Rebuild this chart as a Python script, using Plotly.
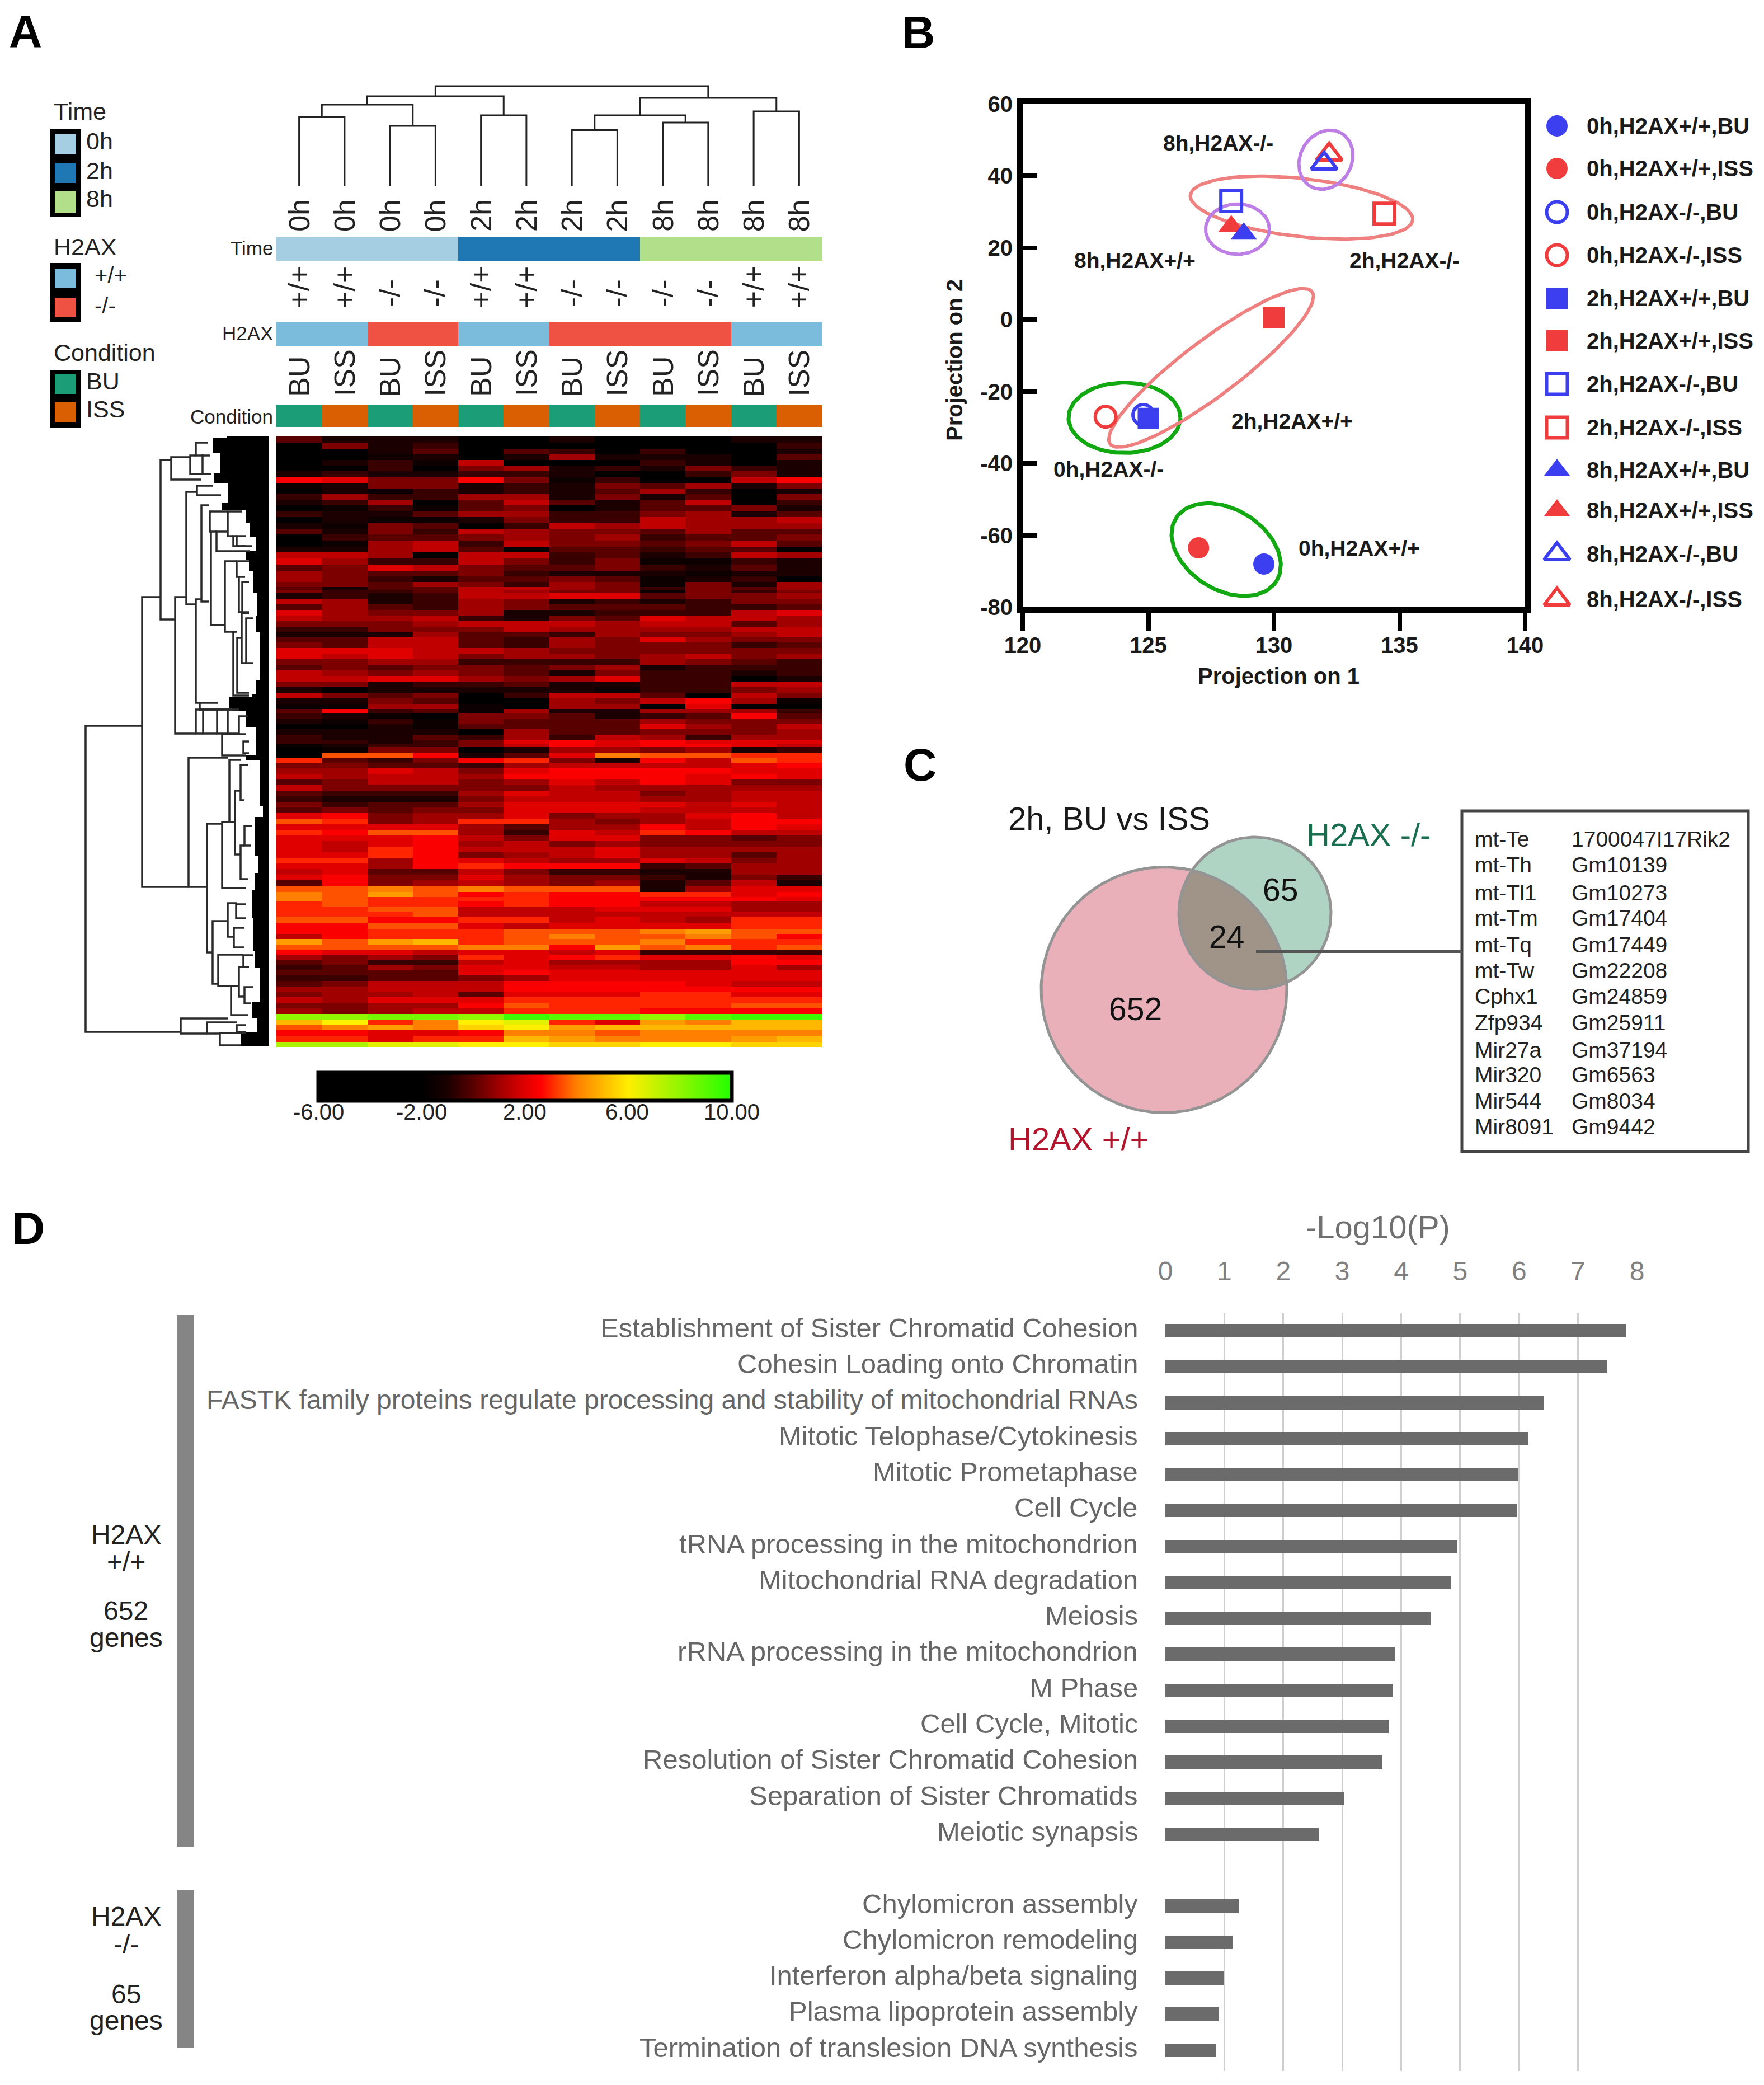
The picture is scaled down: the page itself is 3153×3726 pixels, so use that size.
import math
import plotly.graph_objects as go

W, H = 3153, 3726
FONT = "Liberation Sans"

# ---------- Panel A data ----------
columns = list(range(12))
time_labels = ["0h","0h","0h","0h","2h","2h","2h","2h","8h","8h","8h","8h"]
h2ax_labels = ["+/+","+/+","-/-","-/-","+/+","+/+","-/-","-/-","-/-","-/-","+/+","+/+"]
cond_labels = ["BU","ISS"]*6
time_levels = ["0h","2h","8h"]
h2ax_levels = ["+/+","-/-"]
cond_levels = ["BU","ISS"]
time_colors = ["#a6cee3","#1f78b4","#b2df8a"]
h2ax_colors = ["#7bbcdc","#ef5243"]
cond_colors = ["#1b9e77","#d95f02"]

dendro_nodes = [(0,1,123),(2,3,107),(12,13,145),(4,5,126),(14,15,160),(6,7,99.5),
                (8,9,113),(17,18,126),(10,11,133),(19,20,157),(16,21,178)]

heat_y = [785,797,807,817,827,837,847,858,868,878,888,898,908,918,930,940,950,960,972,982,
          992,1003,1015,1025,1035,1045,1053,
          1055,1065,1075,1085,1095,1105,1115,1125,1133,1143,1153,1163,1173,1183,1193,1203,
          1213,1223,1233,1243,1253,1263,1270,1280,1290,1298,1308,1318,1327,
          1330,1340,1350,1358,1368,1378,1388,1398,1408,1418,1428,1438,1448,1458,1468,1478,
          1488,1498,1508,1518,1528,1538,1548,1558,1568,1578,1588,1600,
          1605,1615,1625,1633,1643,1655,1665,1673,1683,1693,1702,1710,1720,1728,1738,1747,
          1758,1768,1777,1787,1797,1807,1817,1827,1835,1845,1857,1868]
heat_z = [
[0,-1,-1,-1,-2,-2,-1,-2,-2,-2,-1,-1],[-2,.5,-1,-.5,-2,-2,-2,-2,-2,-2,-2,-.5],
[-2,-2,-1,0,-2,0,-.5,-2,-.5,-2,-2,-1],[-2,-2,-1.5,-1,-2,-1,1,-1,-1,-1,-2,0],
[-2,-1,-.5,-1.5,1.5,-2,-2,-2,-.5,-1,-2,-1],[-2,-2,-.5,-2,.5,1,-1,-.5,-1,.5,-.5,-1],
[-1,-.5,-1,-1,-.5,-.5,-1,-2,-2,-.5,.5,-1],[2.5,2,.5,.5,2.5,.5,-1.5,-.5,-2,-2,1.5,2.5],
[-1.5,-1,.5,.5,-1,-.5,-1,.5,0,1,-1,.5],[-2,-1,-1.5,-.5,-1,-.5,-1,0,1,-.5,-2,-1],
[-.5,1,-.5,-.5,1,1,-1,.5,-1,0,-2,.5],[-1,-.5,1,-2,0,1.5,0,-1,0,1.5,-2,-.5],
[-2,-1.5,-.5,-1.5,0,.5,-2,-1,0,0,.5,-1],[-.5,-1,-1,0,1,1,-.5,-.5,.5,1,-1,0],
[-2,-1,-1.5,-1.5,-1,.5,-.5,-.5,1.5,1,1,1.5],[-1,-1.5,.5,0,-2,-.5,1.5,1,1.5,1,1,1],
[0,-1,.5,-.5,1.5,1,.5,.5,0,1,0,0],[-2,-.5,0,0,.5,1,.5,1,-.5,0,0,.5],
[-2,-1.5,1,1.5,-.5,1.5,.5,.5,0,.5,1.5,0],[-1,-1,1,1.5,0,-2,0,0,-.5,0,0,-2],
[1.5,1.5,1,-2,1.5,1.5,-.5,0,-1,-.5,1.5,1],[2,1,-.5,-.5,1.5,.5,-.5,.5,-1.5,-1.5,-.5,-1],
[0,.5,2,1.5,.5,0,0,.5,-.5,-1,0,-1],[1,.5,0,0,.5,-.5,-1,-1,-1,-1.5,-1,-1],
[1,.5,-.5,-1,0,0,.5,0,-1.5,-1,-.5,-2],[.5,.5,0,1,.5,-.5,1,.5,-1.5,.5,-1,1],
[0,-1,0,0,1.5,1.5,1,.5,-.5,.5,0,1],
[.5,-.5,-.5,0,1.5,1,.5,.5,-1.5,.5,-.5,.5],[-1,-.5,-1,-.5,1.5,1.5,2,2,0,.5,.5,1],
[1.5,1,-1,-.5,1,.5,-1,-.5,-1,-.5,.5,.5],[0,1,0,-.5,1,.5,0,0,0,-.5,-.5,0],
[2,1,.5,.5,1,-1,-1,-.5,-.5,-.5,1.5,2],[1.5,1,1,1.5,-.5,-1,.5,0,2,1.5,1.5,1],
[.5,.5,.5,1,1.5,1.5,1.5,1,1.5,1.5,0,1],[-.5,-.5,.5,.5,.5,1.5,1,1,1,1,1.5,1.5],
[-1,-1,-1,1,0,0,-.5,1,.5,.5,1,1.5],[0,0,1.5,1.5,0,-.5,1,.5,2,1,.5,.5],
[.5,0,1.5,1.5,0,-.5,1,.5,.5,.5,-.5,0],[2,2,2,1.5,1.5,1,.5,.5,.5,.5,.5,.5],
[2,1.5,2,1.5,.5,1,1,.5,1,1.5,.5,1],[.5,.5,1,1,-.5,-.5,-.5,-.5,1,.5,0,-.5],
[0,.5,0,.5,.5,0,.5,1,-1,-.5,-.5,-.5],[1.5,1,.5,1,.5,0,-1,.5,-.5,-.5,-1,-.5],
[1.5,1.5,2,2,1,.5,1,2,-.5,-.5,-2,-1],[.5,.5,-1,-.5,-.5,0,-1,-1,-.5,-.5,1.5,1.5],
[-1,-2,-1,-1,-1,-1,-1,-1.5,-.5,-.5,.5,1],[1.5,.5,0,.5,-2,-.5,1.5,1.5,0,-2,1.5,.5],
[-1,-1,.5,0,-2,-2,1,.5,1.5,2.5,1,-1.5],[-1.5,-1.5,1,1,-1.5,-2,1,1,-2,2,-2,-2],
[0,2.5,-.5,0,-1.5,1,-1,-1,1,1,1,-.5],[-.5,-1,-1.5,-2,.5,.5,0,-1,-.5,0,2.5,0],
[-1,-1.5,-.5,-1.5,.5,0,0,0,1,.5,.5,.5],[-2,-2,-1,-1.5,0,0,0,0,2,1,.5,1.5],
[-1,-1,-1,-1,-2,1,0,0,.5,.5,.5,1],[-.5,-1,-1,0,-.5,1,-.5,1.5,1,-.5,1,1],
[-.5,-.5,-1,-.5,.5,2,2.5,2,2.5,2,2,2],
[-1.5,-1,-.5,-.5,.5,1.5,2.5,2,2.5,2.5,2,1.5],[-2,-1.5,.5,.5,-2,-1,1,1,.5,1,-1,-.5],
[-2,3.5,3.5,2.5,-1,0,2,4,3.5,3.5,3,3],[3,0,-.5,.5,2.5,3,.5,-1,2.5,1.5,3.5,3],
[.5,.5,0,0,-.5,1,1.5,1.5,1.5,1.5,2,2.5],[1,1,2,1.5,.5,2,2.5,2.5,2.5,2.5,2,2],
[1.5,1,1.5,1.5,1,2.5,2.5,2.5,2.5,2,2.5,2],[0,.5,1.5,1.5,.5,1,2,1.5,2.5,2,.5,.5],
[1.5,.5,.5,.5,.5,.5,1.5,1,1,1,1,1],[0,-.5,-.5,-.5,1,2,1.5,1.5,.5,1,1.5,1.5],
[-.5,-1,-1,-1,.5,1.5,1.5,1.5,1,1,1.5,1.5],[.5,-.5,0,0,1,2,2,2,2,1.5,2,1.5],
[0,.5,0,.5,.5,2,2,2,1.5,1.5,1.5,1.5],[2,2.5,.5,1,1,2,.5,1,1,2,2.5,1.5],
[3.5,3,.5,1,3,3,1,.5,1,1.5,2.5,2.5],[2,2,2,2,1,0,1,1,2.5,1.5,2.5,2],
[3,2.5,3.5,3.5,1,-.5,2,1.5,3,2.5,1.5,1.5],[2,2,2,2.5,1.5,.5,2,2,.5,.5,0,.5],
[2,1.5,2,2.5,1,1.5,.5,1,.5,.5,.5,.5],[2,1.5,3,2.5,1.5,1.5,1.5,2,1,1,1,1],
[2,2,3,2.5,.5,1,1.5,2,1,1,0,1],[3,3,1,2.5,2,1.5,1,1,2,1.5,.5,1],
[2,2,1,2.5,3,2.5,2.5,2.5,-.5,0,1,1],[1.5,2,0,0,1.5,.5,-.5,-.5,-1,-1,1,1],
[2,2.5,.5,.5,2,1,.5,.5,-.5,-1,.5,-.5],[0,2.5,.5,1,1.5,1,.5,1,-1,0,1.5,-1],
[3.5,3.5,4,3.5,4,3.5,3.5,3.5,-1,1,2,2],[4,3.5,4.5,3.5,2.5,3,2.5,2.5,3,3,2,2.5],
[4,3.5,3,3,3,3,2.5,2.5,2.5,2.5,2.5,2],[3,3.5,3,3,2.5,3,2.5,2.5,1.5,1.5,1,1],
[3,3,3.5,3.5,1.5,1.5,1.5,2,2,2,1,1],[3,3,3,3.5,1.5,1.5,1.5,1.5,1.5,1.5,1.5,1.5],
[3.5,3.5,2.5,2.5,3,3,1.5,2,1.5,1,3,3],[2.5,2.5,3.5,3.5,2,1.5,2,2,2,2,3,3],
[2.5,2.5,3,3,3,3.5,3.5,3.5,4,4.5,3.5,3.5],[1.5,2.5,3,3,3,3.5,4,3.5,3.5,4,3.5,2.5],
[4.5,3.5,4.5,5,3,3.5,3.5,3.5,4,3,3,3],[3.5,3.5,3.5,3.5,4,4,2.5,4.5,3.5,4,3,3.5],
[2.5,2,2,1.5,2,2,1.5,2,-.5,-.5,-.5,-.5],[1,.5,1,.5,3,2,2.5,3,2,2,2.5,2],
[0,.5,-.5,-.5,1.5,2,1,1,1,1,2.5,2.5],[-.5,0,1,.5,2,2,1.5,1.5,1,1,2,1],
[0,0,0,0,2,2.5,2,2,2,2,2,2],[-.5,-.5,0,0,.5,1,2,2,2,2,2,2],
[0,.5,1.5,1.5,1.5,2.5,2.5,2.5,2.5,2,1.5,1.5],[1,1,1.5,1.5,1.5,2.5,2.5,2.5,2.5,2.5,2.5,2.5],
[.5,1,1,1.5,0,2,2,2,3,3,2,2],[1.5,1,2,2,2,3,3,3,3,3,3,3],
[.5,.5,1,1,2.5,3.5,3,3,3,3,3.5,3.5],[1,.5,1,1.5,1.5,3,3,3,2.5,2.5,2.5,2.5],
[8,8,8.5,8.5,8,9.5,9,9,8,9,9.5,9.5],[5,6,3,4,6,6.5,3,2,4.5,4,5,5],
[3.5,4,4.5,4,5.5,6,4.5,5,5,5,5,5],[2.5,2.5,2,2,2.5,4,4,3.5,4,4,4,4],
[3,3,2,3,3,5,4.5,4,4,4,4.5,5],[7.5,7.5,6.5,6.5,6,6,5.5,5.5,6,6,5.5,5.5],
]
assert len(heat_y) == len(heat_z)

# Row dendrogram: (vertical depth, top y, top child depth, bottom y, bottom child depth)
row_nodes = [
(153,1297,254,1844,323),(254,1067,287,1585,337),(287,822,306,1107,313),(306,817,340,857,360),
(340,814,350,847,373),(350,791,372,814,365),(362,814,375,847,378),
(313,1067,333,1311,350),(333,879,352,1080,350),(352,868,380,885,395),(350,1071,360,1256,357),
(360,903,373,1075,373),(375,914,407,950,377),(377,950,387,1117,402),(387,950,407,985,447),
(407,914,433,958,417),(417,958,423,976,450),(423,958,440,976,440),
(402,1003,423,1129,420),(423,1003,445,1031,427),(427,1031,438,1094,433),(433,1040,445,1094,445),
(417,1129,424,1243,445),(424,1140,432,1238,445),(432,1096,445,1185,440),(440,1105,452,1185,452),
(357,1256,390,1268,423),(350,1268,363,1311,363),(363,1268,388,1311,388),(388,1268,407,1311,407),
(407,1268,427,1311,427),(427,1280,443,1312,440),(397,1312,427,1350,440),(435,1325,445,1346,445),
(337,1354,408,1585,368),(410,1358,430,1469,418),(370,1472,397,1702,380),(397,1469,418,1587,440),
(420,1413,430,1527,430),(430,1367,443,1430,437),(430,1511,437,1571,443),(437,1476,450,1511,448),
(407,1614,423,1674,418),(380,1646,407,1758,390),(390,1706,435,1762,427),(422,1616,440,1641,440),
(418,1658,437,1693,437),(435,1707,452,1728,445),(427,1728,445,1781,437),(437,1764,452,1793,448),
(413,1762,427,1814,443),(323,1820,407,1847,370),(370,1827,423,1847,393),(393,1846,440,1868,430),
(423,1832,440,1844,440),
]
# Left edge of the solid block of leaves: (y start, y end, depth)
leaf_edge = [(780,782,405),(782,810,380),(810,845,393),(845,863,383),(863,898,407),(898,912,397),
(912,935,440),(935,960,447),(960,985,457),(985,1000,440),(1000,1020,445),(1020,1060,452),
(1060,1100,460),(1100,1130,458),(1130,1215,465),(1215,1240,458),(1240,1245,450),(1245,1265,410),
(1265,1270,415),(1270,1300,440),(1300,1350,457),(1350,1358,440),(1358,1440,465),(1440,1460,470),
(1460,1530,455),(1530,1560,462),(1560,1590,455),(1590,1640,450),(1640,1700,452),(1700,1730,455),
(1730,1790,465),(1790,1820,450),(1820,1845,460),(1845,1870,430)]

# ---------- Panel B data ----------
pca_names = ["0h,H2AX+/+,BU","0h,H2AX+/+,ISS","0h,H2AX-/-,BU","0h,H2AX-/-,ISS",
             "2h,H2AX+/+,BU","2h,H2AX+/+,ISS","2h,H2AX-/-,BU","2h,H2AX-/-,ISS",
             "8h,H2AX+/+,BU","8h,H2AX+/+,ISS","8h,H2AX-/-,BU","8h,H2AX-/-,ISS"]
pca_x = [129.6,127.0,124.8,123.3,125.0,130.0,128.3,134.4,128.8,128.3,132.0,132.2]
pca_y = [-68,-63.5,-26.5,-27,-27.5,0.5,33,29.5,24,26,43.5,46]
pca_symbols = ["circle","circle","circle-open","circle-open","square","square","square-open","square-open",
               "triangle-up","triangle-up","triangle-up-open","triangle-up-open"]
pca_colors = ["#3b3ff0","#f03c3c"]*6
group_names = ["8h,H2AX-/-","8h,H2AX+/+","2h,H2AX-/-","2h,H2AX+/+","0h,H2AX-/-","0h,H2AX+/+"]
pca_xticks = [120,125,130,135,140]
pca_yticks = [-80,-60,-40,-20,0,20,40,60]

# ---------- Panel C data ----------
venn_only_wt, venn_both, venn_only_ko = 652, 24, 65
genes_a = ["mt-Te","mt-Th","mt-Tl1","mt-Tm","mt-Tq","mt-Tw","Cphx1","Zfp934","Mir27a","Mir320","Mir544","Mir8091"]
genes_b = ["1700047I17Rik2","Gm10139","Gm10273","Gm17404","Gm17449","Gm22208","Gm24859","Gm25911","Gm37194","Gm6563","Gm8034","Gm9442"]

# ---------- Panel D data ----------
pathways = ["Establishment of Sister Chromatid Cohesion","Cohesin Loading onto Chromatin",
 "FASTK family proteins regulate processing and stability of mitochondrial RNAs","Mitotic Telophase/Cytokinesis",
 "Mitotic Prometaphase","Cell Cycle","tRNA processing in the mitochondrion","Mitochondrial RNA degradation","Meiosis",
 "rRNA processing in the mitochondrion","M Phase","Cell Cycle, Mitotic","Resolution of Sister Chromatid Cohesion",
 "Separation of Sister Chromatids","Meiotic synapsis","Chylomicron assembly","Chylomicron remodeling",
 "Interferon alpha/beta signaling","Plasma lipoprotein assembly","Termination of translesion DNA synthesis"]
log_p = [7.81,7.49,6.42,6.15,5.98,5.96,4.95,4.84,4.51,3.90,3.85,3.79,3.68,3.03,2.61,1.24,1.14,0.99,0.91,0.86]
path_rows = list(range(15)) + list(range(16,21))

# ---------- helpers ----------
def px(x): return x/W
def py(y): return 1-y/H
annots, shapes = [], []
def T(x,y,text,size,color="#222222",bold=False,anchor="center",angle=0,xref="paper",yref="paper",yshift=0):
    annots.append(dict(x=px(x) if xref=="paper" else x, y=py(y) if yref=="paper" else y, xref=xref, yref=yref,
        text=f"<b>{text}</b>" if bold else text, showarrow=False, xanchor=anchor, yanchor="middle",
        textangle=angle, yshift=yshift, font=dict(family=FONT,size=size,color=color)))
def R(x0,y0,x1,y1,fill,line=None,lw=0):
    shapes.append(dict(type="rect",xref="paper",yref="paper",x0=px(x0),x1=px(x1),y0=py(y0),y1=py(y1),
        fillcolor=fill,line=dict(color=line or fill,width=lw),layer="below"))

fig = go.Figure()
OV = dict(xaxis="x",yaxis="y")      # full-page drawing axes
AM = dict(xaxis="x2",yaxis="y2")    # heat-map block
BP = dict(xaxis="x3",yaxis="y3")    # PCA
DB = dict(xaxis="x4",yaxis="y4")    # bars

def axis_off(**k):
    return dict(visible=False,automargin=False,fixedrange=True,**k)

# ---------- Panel A ----------
pos = {i:float(i) for i in columns}; hgt = {i:0.0 for i in columns}
BASE = 332
for n,(a,b,h) in enumerate(dendro_nodes):
    nid = 12+n
    fig.add_trace(go.Scatter(x=[pos[a],pos[a],pos[b],pos[b]],y=[BASE-hgt[a],BASE-h,BASE-h,BASE-hgt[b]],
        mode="lines",line=dict(color="#222222",width=3),showlegend=False,hoverinfo="skip",**AM))
    pos[nid]=(pos[a]+pos[b])/2; hgt[nid]=h

def band(levels,colors,labels,yc,dy):
    codes=[levels.index(v) for v in labels]
    n=len(levels); cs=[]
    for i,c in enumerate(colors):
        cs += [[i/n,c],[(i+1)/n,c]]
    fig.add_trace(go.Heatmap(z=[codes],x=columns,y0=yc,dy=dy,zmin=-0.5,zmax=n-0.5,colorscale=cs,showscale=False,hoverinfo="skip",**AM))
band(time_levels,time_colors,time_labels,444.5,43)
band(h2ax_levels,h2ax_colors,h2ax_labels,596.5,43)
band(cond_levels,cond_colors,cond_labels,743,40)

def stop(v): return (v+6)/16
fig.add_trace(go.Heatmap(z=heat_z,x=columns,y=heat_y,zmin=-6,zmax=10,
    colorscale=[[0,"#000000"],[stop(-2),"#000000"],[stop(-1),"#1a0000"],[stop(0),"#580000"],[stop(1),"#a00000"],
                [stop(2),"#e00000"],[stop(2.6),"#ff0000"],[stop(4),"#ff8000"],[stop(6),"#ffee00"],[1,"#22ff00"]],
    colorbar=dict(orientation="h",x=px(569),xanchor="left",y=py(1917),yanchor="top",lenmode="pixels",len=739,
        thicknessmode="pixels",thickness=50,xpad=0,ypad=0,outlinecolor="#000000",outlinewidth=7,ticks="",
        showticklabels=False),hoverinfo="skip",**AM))
for x,t in zip([569,753,938,1121,1308],["-6.00","-2.00","2.00","6.00","10.00"]):
    T(x,1987,t,40,"#222222")

for i in columns:
    T(i,385,time_labels[i],52,angle=-90,xref="x2",yref="y2")
    T(i,513 if h2ax_labels[i]=="+/+" else 524,h2ax_labels[i],52,angle=-90,xref="x2",yref="y2")
    T(i,673 if cond_labels[i]=="BU" else 666,cond_labels[i],52,angle=-90,xref="x2",yref="y2")
T(490,444,"Time",35,anchor="right"); T(490,595,"H2AX",35,anchor="right"); T(490,744,"Condition",35,anchor="right")

lx,ly=[],[]
for y0,y1,d in leaf_edge:
    lx+=[d,d]; ly+=[y0,y1]
lx+=[480,480]; ly+=[leaf_edge[-1][1],leaf_edge[0][0]]
fig.add_trace(go.Scatter(x=lx,y=ly,mode="lines",fill="toself",fillcolor="#000000",line=dict(width=0,color="#000000"),
    showlegend=False,hoverinfo="skip",**OV))
for xv,y1,x1,y2,x2 in row_nodes:
    fig.add_trace(go.Scatter(x=[x1,xv,xv,x2],y=[y1,y1,y2,y2],mode="lines",line=dict(color="#2a2a2a",width=3.5),
        showlegend=False,hoverinfo="skip",**OV))

for (y0,y1,inner,cols) in [(231,388,[(240,276),(291,327),(341,380)],time_colors),
                           (470,575,[(480,515),(533,566)],h2ax_colors),
                           (661,765,[(668,704),(719,755)],cond_colors)]:
    R(89,y0,144,y1,"#000000")
    for (a,b),c in zip(inner,cols):
        R(98,a,136,b,c)
T(94,199,"Time",43,anchor="left")
for y,t in zip([252,305,355],time_levels): T(152,y,t,43,anchor="left")
T(94,441,"H2AX",43,anchor="left")
for y,t in zip([492,546],h2ax_levels): T(167,y,t,40,anchor="left")
T(94,630,"Condition",43,anchor="left")
for y,t in zip([681,731],cond_levels): T(152,y,t,43,anchor="left")

# ---------- Panel B ----------
SX,SY = 20/898, 140/899
ellipses = [(124.05,-27.3,100,63,0,"#12a812",7),(128.1,-64,106,72,-32,"#12a812",7),
            (127.5,-13.4,226,50,37,"#ee8080",6),(131.1,31.2,200,52,-6.4,"#ee8080",6),
            (132.07,44.5,55,46,60,"#bd7fe6",6),(128.55,25.2,57,45,0,"#bd7fe6",6)]
for cx,cy,a,b,ang,col,lw in ellipses:
    t=[2*math.pi*i/120 for i in range(121)]
    r=math.radians(ang)
    ex=[cx+(a*math.cos(u)*math.cos(r)-b*math.sin(u)*math.sin(r))*SX for u in t]
    ey=[cy+(a*math.cos(u)*math.sin(r)+b*math.sin(u)*math.cos(r))*SY for u in t]
    fig.add_trace(go.Scatter(x=ex,y=ey,mode="lines",line=dict(color=col,width=lw),showlegend=False,hoverinfo="skip",**BP))
def msize(sym):
    if sym.startswith("triangle"): return 40
    return 37 if "open" in sym else 38
for i in [2,3,0,1,4,5,6,7,9,8,11,10]:
    op = "open" in pca_symbols[i]
    fig.add_trace(go.Scatter(x=[pca_x[i]],y=[pca_y[i]],mode="markers",showlegend=False,hoverinfo="skip",
        marker=dict(symbol=pca_symbols[i],size=msize(pca_symbols[i]),color=pca_colors[i],line=dict(color=pca_colors[i],width=6 if op else 0)),**BP))
leg_y=[225,301,379,456,533,609,686,764,840,912,990,1071]
for i,y in enumerate(leg_y):
    op = "open" in pca_symbols[i]
    fig.add_trace(go.Scatter(x=[2783],y=[y],mode="markers",showlegend=False,hoverinfo="skip",
        marker=dict(symbol=pca_symbols[i],size=msize(pca_symbols[i]),color=pca_colors[i],line=dict(color=pca_colors[i],width=6 if op else 0)),**OV))
    T(2834,y,pca_names[i],40,"#1a1a1a",True,"left")
for (x,y),t in zip([(2177,256),(2028,465),(2510,465),(2309,752),(1981,838),(2429,979)],group_names):
    T(x,y,t,39,"#1a1a1a",True)
T(2285,1208,"Projection on 1",40,"#1a1a1a",True)
T(1706,643,"Projection on 2",40,"#1a1a1a",True,angle=-90)

# ---------- Panel C ----------
def circ(cx,cy,r,n=180):
    t=[2*math.pi*i/n for i in range(n+1)]
    return [cx+r*math.cos(u) for u in t],[cy+r*math.sin(u) for u in t]
C1=(2080.5,1769,219.5); C2=(2243,1632,136)
x1,y1=circ(*C1); x2,y2=circ(*C2)
fig.add_trace(go.Scatter(x=x1,y=y1,mode="lines",fill="toself",fillcolor="#e9b0b9",line=dict(width=0),showlegend=False,hoverinfo="skip",**OV))
fig.add_trace(go.Scatter(x=x2,y=y2,mode="lines",fill="toself",fillcolor="#b0d4c4",line=dict(width=0),showlegend=False,hoverinfo="skip",**OV))
d=math.hypot(C2[0]-C1[0],C2[1]-C1[1]); ang0=math.atan2(C2[1]-C1[1],C2[0]-C1[0])
a1=math.acos((d*d+C1[2]**2-C2[2]**2)/(2*d*C1[2])); a2=math.acos((d*d+C2[2]**2-C1[2]**2)/(2*d*C2[2]))
lx=[C1[0]+C1[2]*math.cos(ang0-a1+2*a1*i/60) for i in range(61)]+[C2[0]+C2[2]*math.cos(ang0+math.pi-a2+2*a2*i/60) for i in range(61)]
ly=[C1[1]+C1[2]*math.sin(ang0-a1+2*a1*i/60) for i in range(61)]+[C2[1]+C2[2]*math.sin(ang0+math.pi-a2+2*a2*i/60) for i in range(61)]
fig.add_trace(go.Scatter(x=lx,y=ly,mode="lines",fill="toself",fillcolor="#a09488",line=dict(width=0),showlegend=False,hoverinfo="skip",**OV))
for xx,yy in [(x1,y1),(x2,y2)]:
    fig.add_trace(go.Scatter(x=xx,y=yy,mode="lines",line=dict(color="#949494",width=5),showlegend=False,hoverinfo="skip",**OV))
fig.add_trace(go.Scatter(x=[2245,2613],y=[1700,1700],mode="lines",line=dict(color="#555555",width=6),showlegend=False,hoverinfo="skip",**OV))
T(1982,1463,"2h, BU vs ISS",58,"#1a1a1a"); T(2446,1491,"H2AX -/-",58,"#1a6e50"); T(1927,2035,"H2AX +/+",58,"#b3152c")
T(2288,1590,str(venn_only_ko),57,"#111111"); T(2192,1674,str(venn_both),57,"#111111"); T(2029,1803,str(venn_only_wt),57,"#111111")
shapes.append(dict(type="rect",xref="paper",yref="paper",x0=px(2613),x1=px(3125),y0=py(1449),y1=py(2058),
    line=dict(color="#444444",width=5),fillcolor="rgba(0,0,0,0)",layer="below"))
for y,a,b in zip([1499,1545,1595,1641,1688,1734,1780,1828,1876,1921,1967,2014],genes_a,genes_b):
    T(2634,y,a,39,"#222222",anchor="left"); T(2807,y,b,39,"#222222",anchor="left")

# ---------- Panel D ----------
fig.add_trace(go.Bar(x=log_p,y=path_rows,orientation="h",width=0.375,marker=dict(color="#6b6b6b",line=dict(width=0)),
    showlegend=False,hoverinfo="skip",**DB))
for r,name in zip(path_rows,pathways):
    T(2036,r,name,48 if name.startswith("FASTK") else 49,"#666666",anchor="right",yref="y4",yshift=5)
R(316,2350,346,3300,"#858585"); R(316,3378,346,3660,"#858585")
T(2463,2192,"-Log10(P)",58,"#707070")
for y,t in zip([2742,2790,2878,2926],["H2AX","+/+","652","genes"]): T(225,y,t,48,"#222222")
for y,t in zip([3424,3474,3563,3610],["H2AX","-/-","65","genes"]): T(225,y,t,48,"#222222")

T(45,56,"A",82,"#000000",True); T(1642,58,"B",82,"#000000",True); T(1645,1366,"C",82,"#000000",True); T(50,2194,"D",82,"#000000",True)

# ---------- Layout ----------
tick_bold = dict(family=FONT,size=40,color="#1a1a1a",weight="bold")
fig.update_layout(width=W,height=H,margin=dict(l=0,r=0,t=0,b=0,pad=0),paper_bgcolor="white",plot_bgcolor="rgba(0,0,0,0)",
    annotations=annots,shapes=shapes,showlegend=False,bargap=0,font=dict(family=FONT),
    xaxis=axis_off(domain=[0,1],range=[0,W]),yaxis=axis_off(domain=[0,1],range=[H,0]),
    xaxis2=axis_off(domain=[px(494),px(1469)],range=[-0.5,11.5],anchor="y2"),
    yaxis2=axis_off(domain=[py(1871),py(140)],range=[1871,140],anchor="x2"),
    xaxis3=dict(domain=[px(1828),px(2726)],range=[120,140],anchor="y3",tickvals=pca_xticks,ticktext=[str(v) for v in pca_xticks],
        ticks="outside",ticklen=32,tickwidth=8,ticklabelstandoff=-8,
        tickcolor="#000",showline=True,mirror=True,linecolor="#000",linewidth=10,showgrid=False,zeroline=False,automargin=False,tickfont=tick_bold),
    yaxis3=dict(domain=[py(1085),py(186)],range=[-80,60],anchor="x3",tickvals=pca_yticks,ticktext=[str(v) for v in pca_yticks],
        ticks="inside",ticklen=26,tickwidth=8,
        tickcolor="#000",showline=True,mirror=True,linecolor="#000",linewidth=10,showgrid=False,zeroline=False,automargin=False,tickfont=tick_bold),
    xaxis4=dict(domain=[px(2083),px(2926)],range=[0,8],anchor="y4",side="top",dtick=1,showgrid=True,gridcolor="#cfcfcf",gridwidth=3,
        showline=False,zeroline=False,ticks="",ticklabelstandoff=48,automargin=False,tickfont=dict(family=FONT,size=48,color="#808080")),
    yaxis4=dict(domain=[py(3701),py(2347)],range=[20.58,-0.48],anchor="x4",showticklabels=False,showgrid=False,showline=False,
        zeroline=False,ticks="",automargin=False),
)
fig.write_html("out.html",config=dict(displayModeBar=False),post_script="document.body.style.margin='0';")
